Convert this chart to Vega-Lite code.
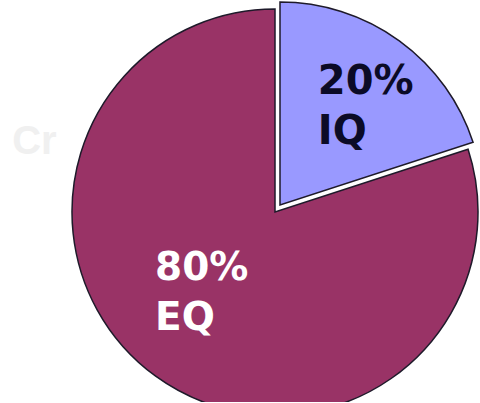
{
  "$schema": "https://vega.github.io/schema/vega-lite/v6.json",
  "width": 410,
  "height": 380,
  "padding": {"left": 70, "top": 22, "right": 0, "bottom": 0},
  "autosize": {"type": "none"},
  "background": "white",
  "view": {"stroke": null},
  "data": {
    "values": [
      {"category": "IQ", "share": 20, "label": "20%\nIQ", "rank": 1},
      {"category": "EQ", "share": 80, "label": "80%\nEQ", "rank": 2}
    ]
  },
  "transform": [
    {"stack": "share", "groupby": [], "sort": [{"field": "rank"}], "as": ["v0", "v1"]}
  ],
  "layer": [
    {
      "data": {"values": [{"mark": "Cr"}]},
      "transform": [],
      "mark": {"type": "text", "theta": 4.973, "radius": 272, "align": "left", "baseline": "middle", "font": "Liberation Sans", "fontWeight": "bold", "fontSize": 40, "color": "#f0f0f0"},
      "encoding": {"text": {"field": "mark"}}
    },
    {
      "transform": [{"filter": "datum.category == 'EQ'"}],
      "mark": {"type": "arc", "radius": 203, "fill": "#993366", "stroke": "#1e1a2a", "strokeWidth": 1.5},
      "encoding": {
        "theta": {"field": "v0", "type": "quantitative", "scale": {"domain": [0, 100]}},
        "theta2": {"field": "v1"}
      }
    },
    {
      "transform": [{"filter": "datum.category == 'IQ'"}],
      "mark": {"type": "arc", "radius": 203, "fill": "#9999ff", "stroke": "#1e1a2a", "strokeWidth": 1.5, "xOffset": 5, "yOffset": -7},
      "encoding": {
        "theta": {"field": "v0", "type": "quantitative", "scale": {"domain": [0, 100]}},
        "theta2": {"field": "v1"}
      }
    },
    {
      "transform": [{"filter": "datum.category == 'IQ'"}],
      "mark": {"type": "text", "radius": 106, "thetaOffset": 0.375, "xOffset": 4, "yOffset": -31, "align": "left", "baseline": "middle", "lineBreak": "\n", "lineHeight": 50, "font": "DejaVu Sans", "fontWeight": "bold", "fontSize": 40, "color": "#0b0b26"},
      "encoding": {
        "theta": {"field": "v0", "type": "quantitative", "scale": {"domain": [0, 100]}},
        "text": {"field": "label"}
      }
    },
    {
      "transform": [{"filter": "datum.category == 'EQ'"}],
      "mark": {"type": "text", "radius": 144.5, "thetaOffset": 2.864, "yOffset": -25, "align": "left", "baseline": "middle", "lineBreak": "\n", "lineHeight": 50, "font": "DejaVu Sans", "fontWeight": "bold", "fontSize": 39, "color": "#ffffff"},
      "encoding": {
        "theta": {"field": "v0", "type": "quantitative", "scale": {"domain": [0, 100]}},
        "text": {"field": "label"}
      }
    }
  ]
}
